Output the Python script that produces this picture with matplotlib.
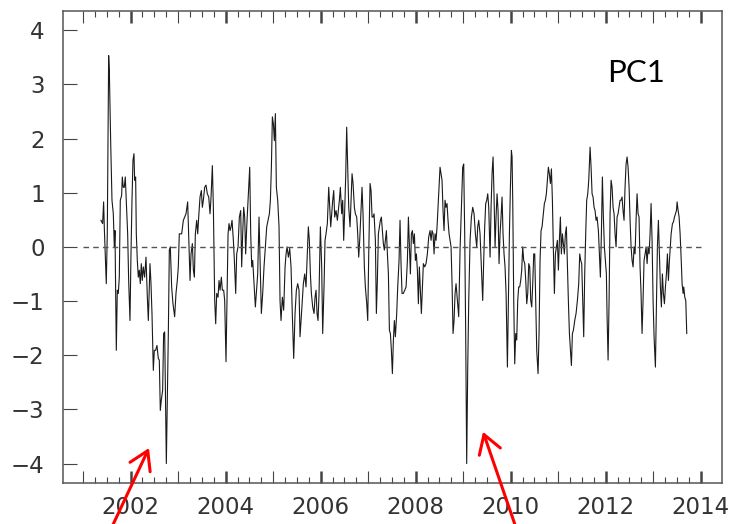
import numpy as np
import matplotlib
matplotlib.use("Agg")
import matplotlib.pyplot as plt

# PC1 time series (decimal year, value)
years = [
    2001.376, 2001.411, 2001.432, 2001.446, 2001.488, 2001.509, 2001.538, 2001.552, 2001.580, 2001.608,
    2001.636, 2001.657, 2001.671, 2001.699, 2001.720, 2001.741, 2001.762, 2001.783, 2001.811, 2001.825,
    2001.846, 2001.867, 2001.888, 2001.909, 2001.938, 2001.959, 2001.987, 2002.008, 2002.029, 2002.050,
    2002.071, 2002.085, 2002.106, 2002.120, 2002.141, 2002.162, 2002.183, 2002.204, 2002.225, 2002.246,
    2002.267, 2002.295, 2002.324, 2002.352, 2002.373, 2002.408, 2002.429, 2002.450, 2002.478, 2002.499,
    2002.527, 2002.555, 2002.583, 2002.604, 2002.625, 2002.646, 2002.674, 2002.695, 2002.717, 2002.738,
    2002.752, 2002.773, 2002.794, 2002.815, 2002.836, 2002.864, 2002.892, 2002.927, 2002.955, 2002.983,
    2003.004, 2003.025,
    2003.075, 2003.110, 2003.138, 2003.166, 2003.201, 2003.229, 2003.251, 2003.272, 2003.300, 2003.321,
    2003.342, 2003.363, 2003.391, 2003.412, 2003.433, 2003.461, 2003.489, 2003.510, 2003.531, 2003.559,
    2003.587, 2003.615, 2003.644, 2003.672, 2003.693, 2003.721, 2003.742, 2003.770, 2003.791, 2003.812,
    2003.840, 2003.861, 2003.882, 2003.910, 2003.931, 2003.959, 2003.980, 2004.008, 2004.029, 2004.051,
    2004.072, 2004.093, 2004.114, 2004.135, 2004.163, 2004.184, 2004.212, 2004.233, 2004.261, 2004.289,
    2004.317, 2004.338, 2004.359, 2004.380, 2004.401, 2004.422, 2004.444, 2004.465, 2004.486, 2004.507,
    2004.528, 2004.549, 2004.570, 2004.598, 2004.626, 2004.647, 2004.675, 2004.703, 2004.724, 2004.752,
    2004.780, 2004.808, 2004.836, 2004.865, 2004.893, 2004.921, 2004.942, 2004.963, 2004.984, 2005.005,
    2005.026, 2005.047, 2005.068, 2005.096, 2005.124, 2005.145, 2005.166, 2005.194, 2005.222, 2005.251,
    2005.272, 2005.293, 2005.321, 2005.349, 2005.377, 2005.405, 2005.433, 2005.461, 2005.489, 2005.517,
    2005.545, 2005.566,
    2005.601, 2005.636, 2005.664, 2005.692, 2005.720, 2005.741, 2005.762, 2005.784, 2005.805, 2005.833,
    2005.861, 2005.882, 2005.903, 2005.924, 2005.945, 2005.966, 2005.994, 2006.022, 2006.043, 2006.071,
    2006.092, 2006.113, 2006.141, 2006.170, 2006.191, 2006.212, 2006.233, 2006.254, 2006.275, 2006.296,
    2006.324, 2006.352, 2006.373, 2006.394, 2006.415, 2006.443, 2006.464, 2006.485, 2006.506, 2006.527,
    2006.548, 2006.570, 2006.591, 2006.619, 2006.640, 2006.661, 2006.682, 2006.710, 2006.731, 2006.759,
    2006.780, 2006.801, 2006.822, 2006.843, 2006.871, 2006.892, 2006.920, 2006.941, 2006.970, 2006.991,
    2007.012, 2007.040, 2007.061, 2007.082, 2007.103, 2007.124, 2007.152, 2007.173, 2007.194, 2007.215,
    2007.236, 2007.257, 2007.278, 2007.299, 2007.320, 2007.341, 2007.362, 2007.384, 2007.405, 2007.426,
    2007.447, 2007.468, 2007.489, 2007.510, 2007.531, 2007.552, 2007.573, 2007.601, 2007.622, 2007.650,
    2007.671, 2007.692, 2007.713, 2007.741, 2007.770, 2007.798, 2007.826, 2007.847, 2007.868, 2007.889,
    2007.910, 2007.931, 2007.952, 2007.973, 2007.994, 2008.015, 2008.036, 2008.057, 2008.078,
    2008.120, 2008.162, 2008.190, 2008.218, 2008.246, 2008.274, 2008.303, 2008.324, 2008.345, 2008.366,
    2008.387, 2008.408, 2008.429, 2008.450, 2008.471, 2008.492, 2008.513, 2008.534, 2008.555, 2008.576,
    2008.597, 2008.618, 2008.639, 2008.660, 2008.681, 2008.703, 2008.724, 2008.745, 2008.766, 2008.787,
    2008.808, 2008.829, 2008.850, 2008.878, 2008.906, 2008.934, 2008.962, 2008.990, 2009.011, 2009.032,
    2009.053, 2009.074, 2009.096, 2009.117, 2009.145, 2009.173, 2009.201, 2009.229, 2009.257, 2009.285,
    2009.306, 2009.327, 2009.355, 2009.383, 2009.411, 2009.432, 2009.453, 2009.474, 2009.496, 2009.517,
    2009.538, 2009.566, 2009.587, 2009.608, 2009.629, 2009.650, 2009.671, 2009.692, 2009.713, 2009.734,
    2009.755, 2009.776, 2009.797, 2009.818, 2009.839, 2009.860, 2009.881, 2009.903, 2009.931, 2009.952,
    2009.973, 2009.994, 2010.015, 2010.029, 2010.043, 2010.064, 2010.085, 2010.106, 2010.127, 2010.148,
    2010.169, 2010.190, 2010.211, 2010.232, 2010.253, 2010.274, 2010.296, 2010.317, 2010.338, 2010.359,
    2010.380, 2010.401, 2010.422, 2010.443, 2010.464, 2010.485, 2010.506, 2010.527, 2010.548, 2010.576,
    2010.597, 2010.618,
    2010.639, 2010.660, 2010.688, 2010.709, 2010.730, 2010.751, 2010.772, 2010.793, 2010.814, 2010.836,
    2010.857, 2010.878, 2010.899, 2010.920, 2010.941, 2010.962, 2010.983, 2011.004, 2011.025, 2011.046,
    2011.067, 2011.088, 2011.109, 2011.130, 2011.151, 2011.172, 2011.193, 2011.214, 2011.236, 2011.257,
    2011.278, 2011.299, 2011.320, 2011.348, 2011.376, 2011.404, 2011.432, 2011.453, 2011.474, 2011.495,
    2011.516, 2011.537, 2011.558, 2011.579, 2011.600, 2011.622, 2011.643, 2011.671, 2011.692, 2011.713,
    2011.734, 2011.755, 2011.776, 2011.797, 2011.818, 2011.846, 2011.867, 2011.888, 2011.909, 2011.930,
    2011.951, 2011.972, 2011.993, 2012.014, 2012.029, 2012.050, 2012.071, 2012.092, 2012.113, 2012.134,
    2012.155, 2012.176, 2012.197, 2012.218, 2012.239, 2012.260, 2012.281, 2012.302, 2012.323, 2012.344,
    2012.365, 2012.386, 2012.407, 2012.429, 2012.450, 2012.471, 2012.492, 2012.513, 2012.534, 2012.555,
    2012.576, 2012.597, 2012.618, 2012.639, 2012.660, 2012.681, 2012.702, 2012.723, 2012.744, 2012.765,
    2012.786, 2012.807, 2012.829, 2012.850, 2012.871, 2012.892, 2012.913, 2012.934, 2012.955, 2012.976,
    2012.997, 2013.018, 2013.046, 2013.067, 2013.088, 2013.109, 2013.130, 2013.151, 2013.172, 2013.193,
    2013.214, 2013.236, 2013.257, 2013.278, 2013.299, 2013.320, 2013.341, 2013.377, 2013.405, 2013.426,
    2013.447, 2013.468, 2013.489, 2013.503, 2013.524, 2013.545, 2013.566, 2013.587, 2013.608, 2013.629,
    2013.643, 2013.664, 2013.685, 2013.706,
]
pc1 = [
    0.49, 0.43, 0.83, 0.37, -0.68, 0.24, 3.53, 3.26, 1.96, 0.86,
    0.61, 0.00, 0.30, -1.91, -0.80, -0.86, -0.56, 0.86, 0.95, 1.29,
    1.10, 1.10, 1.29, 0.86, 0.24, -0.62, -1.36, -0.13, 0.86, 1.60,
    1.72, 1.23, 1.29, 0.24, -0.25, -0.56, -0.43, -0.68, -0.31, -0.62,
    -0.37, -0.56, -0.19, -0.93, -1.36, -0.31, -0.68, -1.23, -2.28, -1.91,
    -1.91, -1.82, -2.06, -2.09, -3.02, -2.83, -2.65, -1.60, -1.57, -3.02,
    -4.00, -2.83, -1.60, -0.06, 0.00, -0.74, -1.05, -1.29, -0.86, -0.62,
    -0.37, 0.24,
    0.24, 0.49, 0.55, 0.61, 0.83, 0.00, -0.62, -0.13, 0.06, -0.43,
    -0.56, 0.24, 0.49, 0.24, 0.55, 0.92, 1.04, 0.73, 0.86, 1.10,
    1.14, 0.98, 0.92, 0.61, 0.92, 1.50, 0.73, -0.99, -1.42, -0.86,
    -0.93, -0.62, -0.80, -0.56, -0.80, -0.80, -0.99, -2.12, -0.99, 0.24,
    0.43, 0.30, 0.37, 0.49, 0.12, -0.25, -0.86, -0.13, 0.00, 0.55,
    0.67, -0.37, 0.24, 0.73, 0.55, -0.13, 0.37, 0.73, 1.10, 1.47,
    0.24, -0.37, -0.25, -0.68, -1.11, -0.86, -0.50, 0.55, -0.19, -1.23,
    -0.86, -0.37, 0.00, 0.37, 0.49, 0.61, 0.86, 1.47, 2.40, 2.27,
    1.96, 2.46, 1.10, 0.86, 0.37, -0.99, -1.36, -0.93, -1.17, -0.37,
    -0.13, 0.00, -0.19, -0.03, -0.37, -1.29, -2.06, -1.23, -0.80, -0.68,
    -0.80, -1.66,
    -1.17, -0.68, -0.50, -0.74, -0.13, 0.37, 0.12, -0.50, -0.86, -1.11,
    -1.23, -0.93, -0.80, -1.23, -1.36, -0.86, 0.37, -0.37, -1.60, -0.74,
    0.12, 0.24, 0.43, 1.10, 0.73, 0.37, 0.61, 0.86, 1.04, 0.55,
    0.67, 0.49, 0.67, 0.86, 1.10, 0.61, 0.86, 0.12, 0.67, 1.29,
    2.21, 1.47, 0.73, 0.37, 0.86, 1.35, 1.17, 0.73, 0.61, 0.55,
    0.24, -0.19, 0.12, 0.55, 1.10, 0.61, -0.37, -0.74, -1.05, -1.36,
    -0.13, 1.17, 1.04, 0.55, 0.55, 0.61, 0.12, -1.23, -0.62, 0.24,
    0.37, 0.49, 0.55, 0.30, 0.06, -0.06, 0.12, 0.30, -0.13, -0.50,
    -1.54, -1.60, -1.91, -2.34, -1.72, -1.36, -1.66, -1.23, -0.74, -0.25,
    0.49, -0.31, -0.86, -0.86, -0.80, -0.74, -0.25, 0.55, 0.00, -0.50,
    0.24, 0.30, 0.06, 0.24, -0.25, -0.13, -0.43, -1.05, -0.37,
    -1.23, -0.31, -0.37, -0.31, -0.13, 0.18, 0.30, 0.12, 0.30, 0.24,
    -0.13, 0.24, 0.12, 0.37, 0.73, 1.10, 1.47, 1.35, 1.23, 0.67,
    0.30, 0.86, 0.73, 0.80, 0.49, 0.24, 0.12, 0.00, -0.68, -1.60,
    -1.36, -0.86, -0.68, -0.99, -1.29, -0.06, 0.73, 1.47, 1.53, 0.24,
    -1.60, -4.00, -2.22, -0.99, 0.12, 0.55, 0.73, 0.61, 0.24, 0.00,
    0.37, 0.49, 0.24, -0.37, -0.99, -0.25, 0.37, 0.80, 0.86, 0.98,
    0.73, -0.19, 0.73, 1.35, 1.66, 0.92, 0.00, 0.55, 0.98, 0.67,
    -0.31, 0.24, 0.55, 0.92, 0.24, -0.13, -0.37, -0.86, -2.22, -0.99,
    0.24, 1.10, 1.78, 1.66, 0.86, -0.99, -2.16, -1.60, -1.72, -0.99,
    -0.74, -0.74, -0.62, -0.43, 0.00, -0.25, -0.31, -0.62, -1.05, -0.86,
    -0.31, -0.37, -0.99, -1.11, -0.68, -0.13, -0.13, -0.99, -1.91, -2.34,
    -1.60, -0.25,
    0.30, 0.37, 0.61, 0.80, 0.86, 0.98, 1.23, 1.47, 1.35, 1.17,
    1.44, 0.86, -0.06, -0.86, -0.13, 0.00, 0.12, -0.43, 0.12, 0.55,
    -0.13, 0.24, 0.06, -0.13, 0.24, 0.37, -0.31, -0.99, -1.60, -1.91,
    -2.19, -1.60, -1.54, -1.36, -1.23, -0.99, -0.68, -0.13, -0.25, -0.31,
    -0.99, -1.66, -0.50, 0.24, 0.86, 0.98, 1.23, 1.84, 1.47, 0.98,
    0.92, 0.73, 0.67, 0.49, 0.55, 0.30, -0.13, -0.56, 0.24, 1.29,
    0.55, 0.00, -0.25, -0.50, -1.29, -2.09, -0.99, 0.61, 1.23, 1.10,
    0.73, 0.61, 0.24, 0.00, 0.55, 0.61, 0.73, 0.86, 0.86, 0.92,
    0.67, 0.49, 1.10, 1.53, 1.66, 1.47, 1.10, 0.49, 0.00, -0.25,
    -0.37, 0.00, -0.13, 0.49, 0.98, 0.61, 0.55, -0.37, -0.86, -1.60,
    -0.99, -0.25, -0.13, 0.00, -0.31, 0.00, -0.13, 0.24, 0.80, 0.12,
    -0.99, -1.66, -2.22, -1.11, 0.00, 0.49, -0.13, -0.74, -1.11, -0.50,
    -0.86, -1.05, -0.74, -0.50, -0.13, -0.62, -0.25, 0.24, 0.43, 0.46,
    0.55, 0.61, 0.67, 0.83, 0.67, 0.55, 0.24, -0.19, -0.68, -0.86,
    -0.74, -0.93, -0.99, -1.60,
]

year_ticks = np.arange(2001, 2015)
year_labels = [str(y) if y % 2 == 0 else "" for y in year_ticks]
y_ticks = np.arange(-4, 5)
y_labels = [str(v).replace("-", "\u2212") for v in y_ticks]

plt.rcParams["font.family"] = ["DejaVu Sans"]

fig = plt.figure(figsize=(7.39, 5.24), dpi=100)
ax = fig.add_axes([0.0848, 0.0782, 0.8917, 0.9014])

ax.plot(years, pc1, color="#1a1a1a", lw=0.8)
ax.hlines(0, year_ticks[0], year_ticks[-1], colors="#555555", linestyles=(0, (4, 3)), lw=1.0)

ax.set_xlim(2000.57, 2014.44)
ax.set_ylim(-4.36, 4.36)

ax.set_xticks(year_ticks)
ax.set_xticklabels(year_labels)
ax.set_xticks(np.arange(2001, 2014.01, 0.25), minor=True)
ax.set_yticks(y_ticks)
ax.set_yticklabels(y_labels)

ax.tick_params(axis="x", which="both", direction="in", top=True, bottom=True,
               color="#444444", labelcolor="#333333", labelsize=16.5, pad=9.4)
ax.tick_params(axis="x", which="major", length=8.5, width=0.8)
ax.tick_params(axis="x", which="minor", length=4.3, width=0.8)
ax.tick_params(axis="y", direction="in", left=True, right=False, length=10, width=0.8,
               color="#444444", labelcolor="#333333", labelsize=16.5, pad=13)

for tk, y in zip(ax.xaxis.get_major_ticks(), year_ticks):
    if y % 2 == 0:
        tk.tick1line.set_markeredgewidth(1.8)
        tk.tick2line.set_markeredgewidth(1.8)

for sp in ax.spines.values():
    sp.set_color("#555555")
    sp.set_linewidth(1.1)

ax.text(0.826, 0.849, "PC1", transform=ax.transAxes, ha="left", va="baseline",
        fontsize=22.5, family=["Lato", "DejaVu Sans"], color="black")

arrow = dict(arrowstyle="->,head_length=0.65,head_width=0.4", color="red", lw=2.2,
             mutation_scale=20, shrinkA=0, shrinkB=0)
ax.annotate("", xy=(0.2016, 0.145), xycoords="figure fraction",
            xytext=(0.150, -0.01), textcoords="figure fraction",
            arrowprops=arrow, annotation_clip=False)
ax.annotate("", xy=(0.6536, 0.176), xycoords="figure fraction",
            xytext=(0.699, -0.01), textcoords="figure fraction",
            arrowprops=arrow, annotation_clip=False)

fig.savefig("out.png", dpi=100)
